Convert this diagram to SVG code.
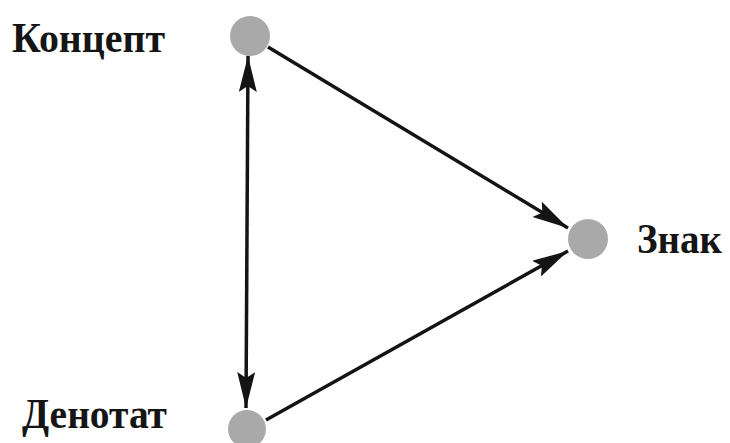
<svg xmlns="http://www.w3.org/2000/svg" width="730" height="443" viewBox="0 0 730 443">
<style>
.lbl{font-family:"Liberation Serif","Times New Roman",serif;font-weight:bold;font-size:42px;fill:#151515}
.node{fill:#a9a9a9}
.edge{stroke:#141414;stroke-width:3.5;fill:none}
</style>
<defs>
<marker id="ah" markerUnits="userSpaceOnUse" markerWidth="38" markerHeight="20" refX="36" refY="9" orient="auto-start-reverse" viewBox="0 0 38 20">
<path d="M0,0 L36,9 L0,18 L6,9 z" fill="#141414"/>
</marker>
</defs>
<rect width="730" height="443" fill="#ffffff"/>
<g id="connectors">
<line class="edge" x1="268" y1="47" x2="568" y2="228" marker-end="url(#ah)"/>
<line class="edge" x1="266" y1="420" x2="568" y2="251" marker-end="url(#ah)"/>
<line class="edge" x1="248" y1="56" x2="246" y2="408" marker-start="url(#ah)" marker-end="url(#ah)"/>
</g>
<g id="concept">
<circle class="node" cx="250" cy="36" r="20"/>
<text class="lbl" x="12" y="52" textLength="153" lengthAdjust="spacingAndGlyphs">Концепт</text>
</g>
<g id="sign">
<circle class="node" cx="588" cy="239" r="20"/>
<text class="lbl" x="637" y="253" textLength="85" lengthAdjust="spacingAndGlyphs">Знак</text>
</g>
<g id="denotat">
<circle class="node" cx="247" cy="429" r="19"/>
<text class="lbl" x="22" y="428" textLength="145" lengthAdjust="spacingAndGlyphs">Денотат</text>
</g>
</svg>
